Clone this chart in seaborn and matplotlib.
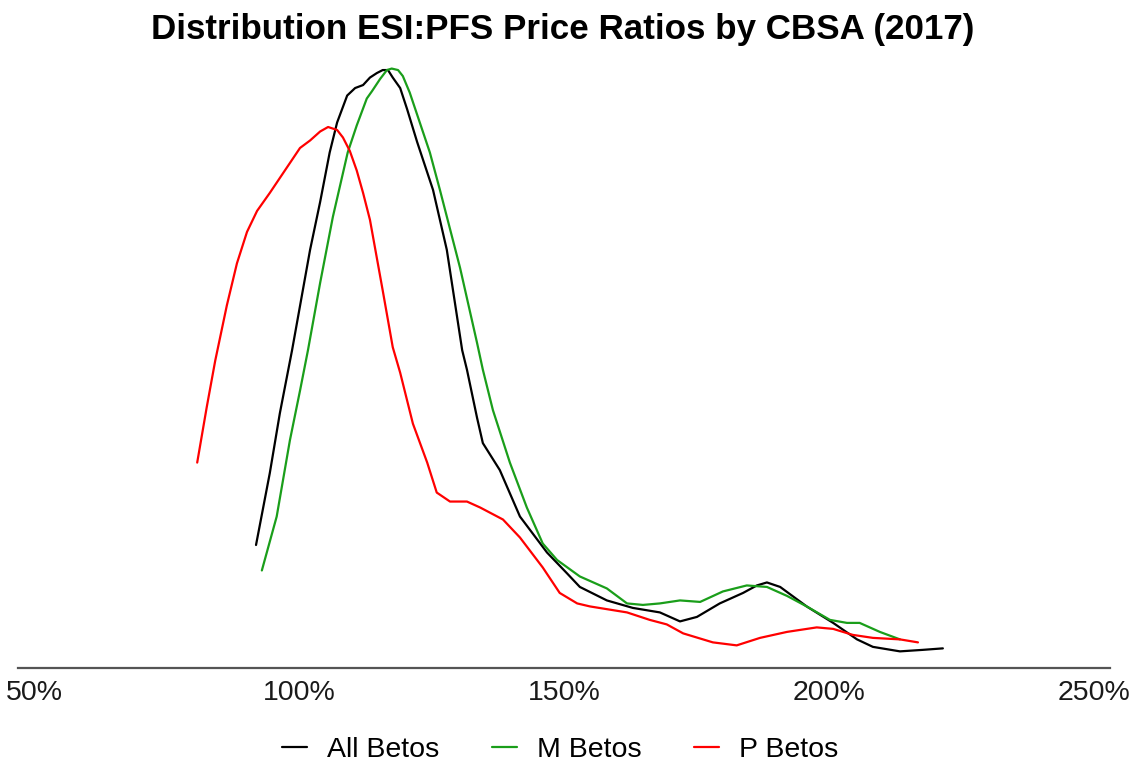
import pandas as pd
import matplotlib.pyplot as plt
import seaborn as sns
from matplotlib.ticker import PercentFormatter

# Density curves (price ratio, density)
all_ratio = [0.919, 0.945, 0.964, 0.987, 1.021, 1.040, 1.058, 1.072, 1.091, 1.106,
             1.121, 1.134, 1.147, 1.158, 1.168, 1.177, 1.191, 1.204, 1.223, 1.253,
             1.279, 1.308, 1.317, 1.336, 1.347, 1.379, 1.417, 1.468, 1.506, 1.530,
             1.581, 1.630, 1.681, 1.719, 1.751, 1.794, 1.838, 1.864, 1.883, 1.908,
             1.958, 2.008, 2.053, 2.083, 2.134, 2.177, 2.215]
all_dens = [0.82, 1.30, 1.70, 2.12, 2.79, 3.11, 3.44, 3.64, 3.82, 3.87,
            3.89, 3.94, 3.97, 3.99, 3.99, 3.94, 3.87, 3.73, 3.51, 3.19,
            2.79, 2.12, 1.99, 1.67, 1.50, 1.32, 1.01, 0.77, 0.63, 0.54,
            0.45, 0.40, 0.37, 0.31, 0.34, 0.43, 0.50, 0.55, 0.57, 0.54,
            0.41, 0.30, 0.19, 0.14, 0.11, 0.12, 0.13]

m_ratio = [0.930, 0.958, 0.983, 1.002, 1.017, 1.040, 1.064, 1.092, 1.109, 1.128,
           1.138, 1.153, 1.166, 1.175, 1.187, 1.196, 1.209, 1.228, 1.247, 1.266,
           1.304, 1.336, 1.347, 1.366, 1.398, 1.430, 1.460, 1.487, 1.530, 1.581,
           1.619, 1.649, 1.681, 1.719, 1.757, 1.800, 1.845, 1.883, 1.921, 1.958,
           2.002, 2.034, 2.058, 2.096, 2.134]
m_dens = [0.65, 1.01, 1.52, 1.85, 2.12, 2.57, 3.01, 3.44, 3.62, 3.80,
          3.85, 3.93, 3.99, 4.00, 3.99, 3.95, 3.84, 3.64, 3.44, 3.19,
          2.67, 2.17, 1.99, 1.72, 1.37, 1.07, 0.83, 0.72, 0.61, 0.53,
          0.43, 0.42, 0.43, 0.45, 0.44, 0.51, 0.55, 0.54, 0.48, 0.41,
          0.32, 0.30, 0.30, 0.24, 0.19]

p_ratio = [0.808, 0.826, 0.842, 0.864, 0.883, 0.902, 0.921, 0.945, 0.964,
           0.983, 1.002, 1.021, 1.040, 1.055, 1.072, 1.083, 1.096, 1.109, 1.121,
           1.134, 1.158, 1.177, 1.191, 1.215, 1.242, 1.260, 1.285, 1.317, 1.342,
           1.385, 1.417, 1.460, 1.492, 1.525, 1.549, 1.619, 1.662, 1.694, 1.725,
           1.781, 1.826, 1.870, 1.921, 1.977, 2.008, 2.045, 2.083, 2.134, 2.168]
p_dens = [1.37, 1.74, 2.05, 2.42, 2.70, 2.91, 3.05, 3.17, 3.27,
          3.37, 3.47, 3.52, 3.58, 3.61, 3.59, 3.54, 3.45, 3.32, 3.17,
          2.99, 2.52, 2.14, 1.97, 1.63, 1.37, 1.17, 1.11, 1.11, 1.07,
          0.99, 0.87, 0.67, 0.50, 0.43, 0.41, 0.37, 0.32, 0.29, 0.23,
          0.17, 0.15, 0.20, 0.24, 0.27, 0.26, 0.22, 0.20, 0.19, 0.17]

groups = ['All Betos', 'M Betos', 'P Betos']
colors = ['#000000', '#1a9e1a', '#ff0000']
x_ticks = [0.5, 1.0, 1.5, 2.0, 2.5]

df = pd.concat([
    pd.DataFrame({'ratio': all_ratio, 'density': all_dens, 'group': groups[0]}),
    pd.DataFrame({'ratio': m_ratio, 'density': m_dens, 'group': groups[1]}),
    pd.DataFrame({'ratio': p_ratio, 'density': p_dens, 'group': groups[2]}),
])

sns.set_style('white')
plt.rcParams['font.family'] = ['Liberation Sans', 'DejaVu Sans']
plt.rcParams['text.color'] = 'black'
plt.rcParams['lines.solid_joinstyle'] = 'round'

fig = plt.figure(figsize=(11.29, 7.65), dpi=100)
ax = fig.add_axes([0.016, 0.127, 0.967, 0.801])

sns.lineplot(data=df, x='ratio', y='density', hue='group', hue_order=groups,
             palette=dict(zip(groups, colors)), sort=False, estimator=None,
             linewidth=1.6, ax=ax)

ax.set_xlim(0.47, 2.53)
ax.set_ylim(0, 4.09)
ax.set_xticks(x_ticks)
ax.xaxis.set_major_formatter(PercentFormatter(1.0, decimals=0))
ax.tick_params(axis='x', length=0, pad=9, labelsize=20.5, labelcolor='#1a1a1a')
ax.set_yticks([])
ax.set_xlabel('')
ax.set_ylabel('')
for side in ['top', 'right', 'left']:
    ax.spines[side].set_visible(False)
ax.spines['bottom'].set_color('#555555')
ax.spines['bottom'].set_linewidth(1.6)

ax.legend(loc='center', bbox_to_anchor=(0.496, 0.02), bbox_transform=fig.transFigure,
          ncol=3, frameon=False, fontsize=20.5, handlelength=0.88, handletextpad=0.7,
          columnspacing=1.85)

fig.text(0.498, 1 - 29 / 765, 'Distribution ESI:PFS Price Ratios by CBSA (2017)',
         ha='center', va='center', fontsize=25.2, fontweight='bold')

fig.savefig('out.png', dpi=100)
